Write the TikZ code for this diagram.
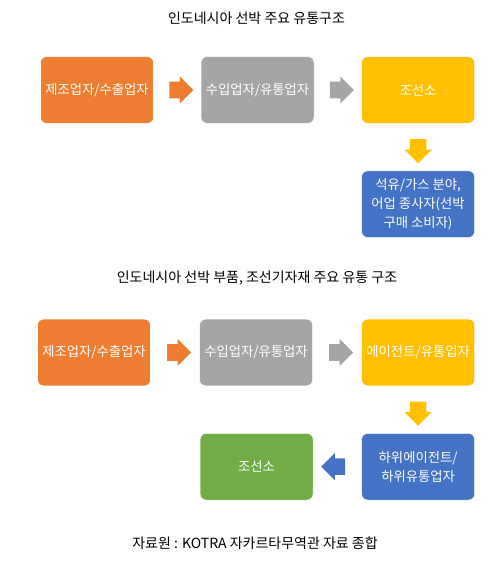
\documentclass[tikz,border=0pt]{standalone}
\usepackage{fontspec}
\setmainfont{Noto Sans CJK KR}
\usetikzlibrary{positioning, calc, shapes.arrows}
\definecolor{flOrange}{HTML}{ED7D31}
\definecolor{flGray}{HTML}{A5A5A5}
\definecolor{flGold}{HTML}{FFC000}
\definecolor{flBlue}{HTML}{4472C4}
\definecolor{flGreen}{HTML}{70AD47}
\begin{document}
\begin{tikzpicture}[
    x=0.75pt, y=-0.75pt,
    node distance=35.25pt and 35.25pt,
    box/.style={draw=white, line width=0.4pt, rounded corners=4.5pt, minimum width=84.75pt,
                minimum height=50pt, align=center, text=white, font=\fontsize{10}{14.5}\selectfont},
    orangebox/.style={box, fill=flOrange},
    graybox/.style={box, fill=flGray},
    goldbox/.style={box, fill=flGold},
    bluebox/.style={box, fill=flBlue},
    greenbox/.style={box, fill=flGreen},
    title/.style={font=\fontsize{10.5}{13}\selectfont, text=black},
    blockarrow/.style={single arrow, single arrow head extend=4pt, single arrow head indent=0pt,
                       text width=0pt, text height=6pt, text depth=6pt, inner sep=0pt,
                       minimum height=18pt, draw=none},
]
\useasboundingbox (0,0) rectangle (503,580);

% --- Top: ship distribution ---
\node[title] (title1) at (256.5,18) {인도네시아 선박 주요 유통구조};

\node[orangebox] (maker1) at (97,90) {제조업자/수출업자};
\node[graybox, right=of maker1] (importer1) {수입업자/유통업자};
\node[goldbox, right=of importer1] (yard1) {조선소};
\node[bluebox, below=of yard1] (buyer1) {석유/가스 분야,\\어업 종사자(선박\\구매 소비자)};

\node[blockarrow, fill=flOrange] (a11) at ($(maker1.east)!0.5!(importer1.west)$) {};
\node[blockarrow, fill=flGray] (a12) at ($(importer1.east)!0.5!(yard1.west)$) {};
\node[blockarrow, fill=flGold, rotate=-90] (a13) at ($(yard1.south)!0.5!(buyer1.north)$) {};

% --- Bottom: parts and equipment distribution ---
\node[title] (title2) at (257,278) {인도네시아 선박 부품, 조선기자재 주요 유통 구조};

\node[orangebox] (maker2) at (94,352.5) {제조업자/수출업자};
\node[graybox, right=36.4pt of maker2] (importer2) {수입업자/유통업자};
\node[goldbox, right=36.4pt of importer2] (agent2) {에이전트/유통업자};
\node[bluebox, below=35.25pt of agent2] (subagent2) {하위에이전트/\\하위유통업자};
\node[greenbox, left=36pt of subagent2] (yard2) {조선소};

\node[blockarrow, fill=flOrange] (a21) at ($(maker2.east)!0.5!(importer2.west)$) {};
\node[blockarrow, fill=flGray] (a22) at ($(importer2.east)!0.5!(agent2.west)$) {};
\node[blockarrow, fill=flGold, rotate=-90] (a23) at ($(agent2.south)!0.5!(subagent2.north)$) {};
\node[blockarrow, fill=flBlue, shape border rotate=180] (a24) at ($(subagent2.west)!0.5!(yard2.east)$) {};

% --- Source ---
\node[title] (source) at (255,543) {자료원 : KOTRA 자카르타무역관 자료 종합};

\end{tikzpicture}
\end{document}
